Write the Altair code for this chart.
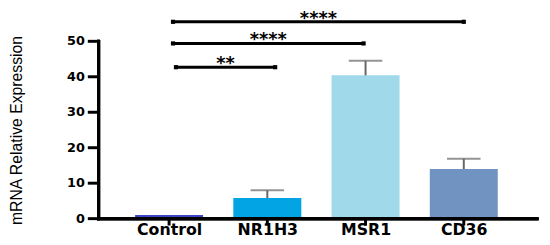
import altair as alt
import pandas as pd

categories = ["Control", "NR1H3", "MSR1", "CD36"]
positions = [0, 1, 2, 3]
means = [1.0, 5.8, 40.4, 14.0]
errors = [0.0, 2.2, 4.1, 2.9]
colors = ["#3b46c4", "#02a4e4", "#9fd9ea", "#7193c1"]
y_ticks = [0, 10, 20, 30, 40, 50]
y_tick_labels = ["0", "10", "20", "30", "40", "50"]

bracket_start = [0.04, 0.04, 0.07]
bracket_end = [3.0, 1.98, 1.08]
bracket_y = [55.5, 49.4, 42.7]
bracket_label = ["****", "****", "**"]

W, H = 445, 180

df = pd.DataFrame({"cat": categories, "pos": positions, "mean": means,
                   "err": errors, "color": colors})
df["top"] = df["mean"] + df["err"]
err_df = df[df["err"] > 0]
yt = pd.DataFrame({"v": y_ticks, "lab": y_tick_labels})

br = pd.DataFrame({"x1": bracket_start, "x2": bracket_end, "y": bracket_y,
                   "label": bracket_label})
br["mid"] = (br["x1"] + br["x2"]) / 2
ends = pd.DataFrame({"x": bracket_start + bracket_end, "y": bracket_y + bracket_y})

label_expr = "[" + ",".join("'%s'" % c for c in categories) + "][datum.value]"

xscale = alt.Scale(domain=[-0.667, 3.696], nice=False, zero=False)
yscale = alt.Scale(domain=[0, 50], nice=False)

x_axis = alt.Axis(values=positions, labelExpr=label_expr, title=None,
                  grid=False, labelFont="DejaVu Sans", labelFontWeight="bold",
                  labelColor="black", labelFontSize=16, labelPadding=3,
                  ticks=False)
y_axis = alt.Axis(values=y_ticks, title="mRNA Relative Expression",
                  grid=False, labels=False, ticks=False,
                  titleFont="Liberation Sans", titleFontSize=16,
                  titleFontWeight="normal", titleColor="black", titleX=-83,
                  titleY=90, titleAngle=270, titleAlign="center",
                  titleBaseline="middle")

X = lambda f: alt.X(f, scale=xscale)
Y = lambda f: alt.Y(f, scale=yscale)

bars = alt.Chart(df).mark_bar(size=69).encode(
    x=alt.X("pos:Q", scale=xscale, axis=x_axis),
    y=alt.Y("mean:Q", scale=yscale, axis=y_axis),
    color=alt.Color("color:N", scale=None),
)
err_rule = alt.Chart(err_df).mark_rule(color="#666666", strokeWidth=2).encode(
    x=X("pos:Q"), y=Y("mean:Q"), y2="top:Q")
err_cap = alt.Chart(err_df).mark_tick(color="#666666", orient="horizontal",
                                      size=34, thickness=2).encode(
    x=X("pos:Q"), y=Y("top:Q"))

br_rule = alt.Chart(br).mark_rule(color="black", strokeWidth=3).encode(
    x=X("x1:Q"), x2="x2:Q", y=Y("y:Q"))
br_ends = alt.Chart(ends).mark_square(color="black", size=18, opacity=1).encode(
    x=X("x:Q"), y=Y("y:Q"))
br_text = alt.Chart(br).mark_text(font="DejaVu Sans", fontWeight="bold",
                                  fontSize=18, color="black",
                                  baseline="alphabetic", dy=2).encode(
    x=X("mid:Q"), y=Y("y:Q"), text="label:N")

# y ticks and tick labels through the y scale
y_tick_marks = alt.Chart(yt).mark_rule(color="black", strokeWidth=3).encode(
    y=Y("v:Q"), x=alt.value(-11), x2=alt.value(0))
y_tick_text = alt.Chart(yt).mark_text(font="DejaVu Sans", fontWeight="bold",
                                      fontSize=13, color="black", align="right",
                                      baseline="middle").encode(
    y=Y("v:Q"), x=alt.value(-14), text="lab:N")
# x ticks through the x scale
x_tick_marks = alt.Chart(df).mark_rule(color="black", strokeWidth=3).encode(
    x=X("pos:Q"), y=alt.value(H), y2=alt.value(H + 7))

# thick axis lines drawn over the default domain
y_line = alt.Chart(df).mark_rule(color="black", strokeWidth=3, strokeCap="square").encode(
    x=alt.value(0), y=alt.value(0), y2=alt.value(H))
x_line = alt.Chart(df).mark_rule(color="black", strokeWidth=3, strokeCap="square").encode(
    x=alt.value(0), x2=alt.value(W), y=alt.value(H))

chart = alt.layer(bars, err_rule, err_cap, br_rule, br_ends, br_text,
                  y_tick_marks, y_tick_text, x_tick_marks,
                  y_line, x_line).properties(
    width=W, height=H,
    background="white",
    autosize=alt.AutoSizeParams(type="none"),
    padding={"left": 92, "top": 32, "right": 5, "bottom": 30},
).configure_view(stroke=None)

chart.save("out.html", embed_options={"renderer": "svg", "actions": False})
